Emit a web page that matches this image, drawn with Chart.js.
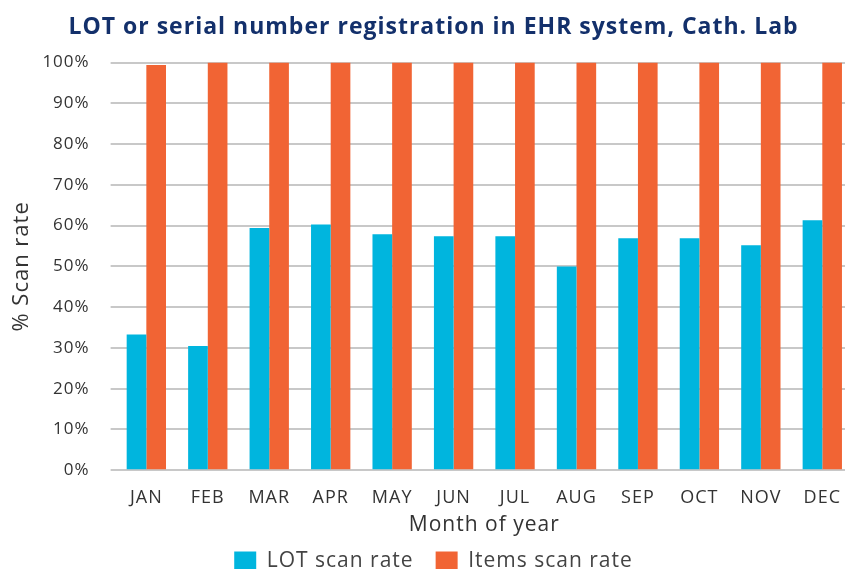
<!DOCTYPE html>
<html>
<head>
<meta charset="utf-8">
<script src="https://cdn.jsdelivr.net/npm/chart.js@4/dist/chart.umd.min.js"></script>
<style>
  html, body { margin: 0; padding: 0; background: #fff; overflow: hidden; }
  #wrap { width: 858px; height: 569px; position: relative; }
</style>
</head>
<body>
<div id="wrap"><canvas id="myChart"></canvas></div>
<script>
// chart data
const months = ["JAN", "FEB", "MAR", "APR", "MAY", "JUN", "JUL", "AUG", "SEP", "OCT", "NOV", "DEC"];
const lotScanRate = [33.3, 30.5, 59.4, 60.3, 57.9, 57.4, 57.4, 50.0, 56.9, 56.9, 55.2, 61.3];
const itemsScanRate = [99.4, 100, 100, 100, 100, 100, 100, 100, 100, 100, 100, 100];
const seriesNames = ["LOT scan rate", "Items scan rate"];

const fontFam = "'Open Sans', sans-serif";

// the original font is wide, so add a bit of tracking to all canvas text
const spacingPlugin = {
  id: "spacing",
  beforeUpdate(chart) {
    chart.ctx.letterSpacing = "1px";
  },
  beforeDraw(chart) {
    chart.ctx.letterSpacing = "1px";
  },
};

let ctx = document.getElementById("myChart").getContext("2d");
let myChart = new Chart(ctx, {
  type: "bar",
  plugins: [spacingPlugin],
  data: {
    labels: months,
    datasets: [
      {
        label: seriesNames[0],
        data: lotScanRate,
        backgroundColor: "#00b5de",
        barPercentage: 1,
        categoryPercentage: 0.64,
      },
      {
        label: seriesNames[1],
        data: itemsScanRate,
        backgroundColor: "#f16434",
        barPercentage: 1,
        categoryPercentage: 0.64,
      },
    ],
  },
  options: {
    responsive: true,
    maintainAspectRatio: false,
    animation: false,
    layout: { padding: { top: 14, left: 9, right: 0, bottom: -13 } },
    plugins: {
      title: {
        display: true,
        text: "LOT or serial number registration in EHR system, Cath. Lab",
        color: "#13306b",
        font: { family: fontFam, size: 23, weight: "bold" },
        padding: { top: 0, bottom: 21 },
      },
      legend: {
        position: "bottom",
        labels: {
          color: "#444",
          font: { family: fontFam, size: 21 },
          boxWidth: 22,
          boxHeight: 20,
          padding: 22,
        },
      },
      tooltip: { enabled: false },
    },
    scales: {
      x: {
        grid: { display: false, drawTicks: false },
        border: { color: "#c8c8c8", width: 2 },
        ticks: { color: "#333", font: { family: fontFam, size: 18 }, padding: 17 },
        title: {
          display: true,
          text: "Month of year",
          color: "#333",
          font: { family: fontFam, size: 21 },
          padding: { top: -13, bottom: -9 },
        },
      },
      y: {
        min: 0,
        max: 100,
        ticks: {
          stepSize: 10,
          color: "#333",
          font: { family: fontFam, size: 17 },
          padding: 21,
          callback: (v) => v + "%",
        },
        grid: { color: "#c8c8c8", lineWidth: 2, tickLength: 5, tickColor: "#c8c8c8" },
        border: { display: false },
        title: {
          display: true,
          text: "% Scan rate",
          color: "#333",
          font: { family: fontFam, size: 22 },
          padding: { top: 0, bottom: -14 },
        },
      },
    },
  },
});
</script>
</body>
</html>
